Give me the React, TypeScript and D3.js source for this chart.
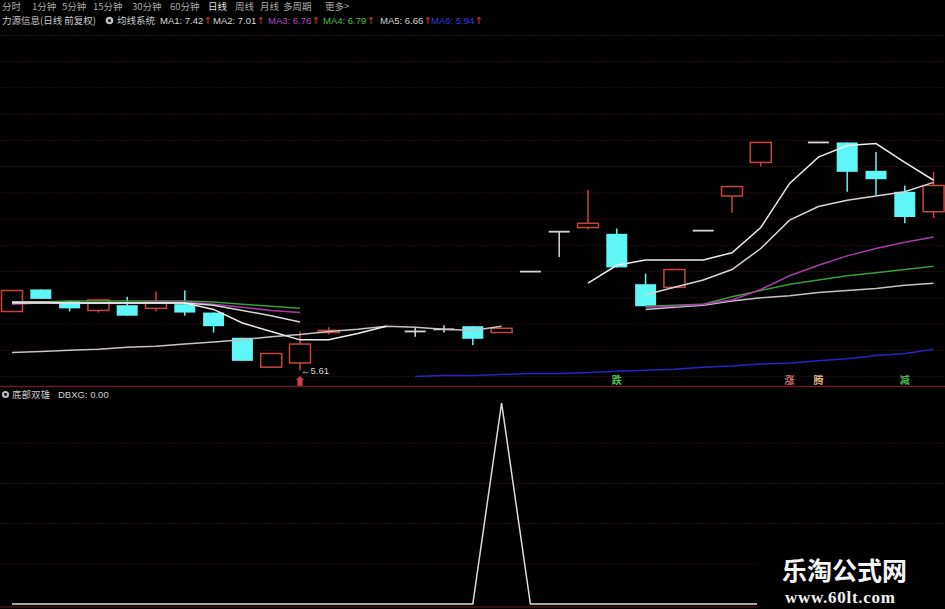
import React from 'react';
import * as d3 from 'd3';

const W = 945;
const H = 609;

// ---------- top menu / titles ----------
const menuLabels = ['分时', '1分钟', '5分钟', '15分钟', '30分钟', '60分钟', '日线', '周线', '月线', '多周期', '更多>'];
const stockTitle = '力源信息(日线 前复权)';
const systemTitle = '均线系统';
const maNames = ['MA1', 'MA2', 'MA3', 'MA4', 'MA5', 'MA6'];
const maLast = ['7.42', '7.01', '6.76', '6.79', '6.66', '5.94'];
const indicatorTitle = '底部双雄';
const indicatorName = 'DBXG';
const indicatorLast = '0.00';
const lowLabel = '5.61';

// ---------- daily bars (index 0..32) ----------
const opens = [6.17, 6.38, 6.27, 6.18, 6.23, 6.20, 6.24, 6.16, 5.92, 5.64, 5.68, 5.97, null, null, 5.98, 6.00, 6.03, 5.97, 6.55, 6.93, 6.97, 6.91, 6.43, 6.40, 6.94, 7.27, 7.59, null, 7.78, 7.78, 7.51, 7.31, 7.12];
const highs = [6.37, 6.38, 6.27, 6.28, 6.31, 6.36, 6.37, 6.16, 5.92, 5.77, 5.98, 6.02, null, null, 6.02, 6.04, 6.03, 6.01, 6.55, 6.93, 7.33, 6.96, 6.53, 6.57, 6.94, 7.36, 7.78, null, 7.78, 7.78, 7.69, 7.37, 7.50];
const lows = [6.17, 6.29, 6.17, 6.16, 6.13, 6.17, 6.13, 5.97, 5.70, 5.64, 5.61, 5.95, null, null, 5.93, 5.97, 5.85, 5.97, 6.55, 6.69, 6.95, 6.59, 6.22, 6.40, 6.94, 7.11, 7.55, null, 7.78, 7.31, 7.28, 7.01, 7.06];
const closes = [6.37, 6.29, 6.20, 6.28, 6.13, 6.26, 6.16, 6.03, 5.70, 5.77, 5.86, 5.99, null, null, 5.98, 6.00, 5.91, 6.01, 6.55, 6.93, 7.01, 6.59, 6.22, 6.57, 6.94, 7.36, 7.78, null, 7.78, 7.50, 7.43, 7.07, 7.37];

const N11 = [null, null, null, null, null, null, null, null, null, null, null];
const ma1 = [6.25, 6.25, 6.25, 6.25, 6.25, 6.25, 6.25, 6.19, 6.06, 5.98, 5.90, 5.90, 5.96, 6.03, null, null, null, null, null, null, 6.44, 6.61, 6.66, 6.66, 6.66, 6.73, 6.97, 7.39, 7.64, 7.75, 7.77, 7.59, 7.42];
const ma2 = [6.26, 6.26, 6.25, 6.25, 6.25, 6.25, 6.25, 6.23, 6.18, 6.13, 6.07, ...N11, 6.33, 6.40, 6.47, 6.57, 6.77, 7.04, 7.17, 7.23, 7.27, 7.31, 7.40];
const ma3 = [6.24, 6.25, 6.25, 6.25, 6.25, 6.26, 6.26, 6.24, 6.21, 6.18, 6.16, ...N11, 6.21, 6.22, 6.24, 6.28, 6.38, 6.51, 6.61, 6.70, 6.77, 6.83, 6.88];
const ma4 = [6.26, 6.26, 6.27, 6.27, 6.27, 6.27, 6.27, 6.26, 6.24, 6.22, 6.20, ...N11, 6.22, 6.23, 6.24, 6.31, 6.37, 6.43, 6.47, 6.51, 6.54, 6.57, 6.60];
const ma5 = [5.78, 5.79, 5.80, 5.81, 5.83, 5.84, 5.86, 5.88, 5.90, 5.93, 5.95, 5.98, 6.00, 6.03, 6.02, 6.00, 5.99, 6.03, null, null, null, null, 6.19, 6.21, 6.23, 6.27, 6.30, 6.32, 6.35, 6.37, 6.39, 6.42, 6.44];
const ma6 = [null, null, null, null, null, null, null, null, null, null, null, null, null, null, 5.55, 5.56, 5.56, 5.57, 5.58, 5.58, 5.59, 5.60, 5.61, 5.62, 5.64, 5.65, 5.67, 5.68, 5.70, 5.72, 5.75, 5.77, 5.81];

// signal labels under bars
const signalIndex = [21, 27, 28, 31];
const signalText = ['跌', '涨', '腾', '减'];
const lowMarkIndex = 10;

// bottom indicator DBXG
const dbxg = [0, 0, 0, 0, 0, 0, 0, 0, 0, 0, 0, 0, 0, 0, 0, 0, 0, 1, 0, 0, 0, 0, 0, 0, 0, 0, 0, 0, 0, 0, 0, 0, 0];

// grid levels
const priceGrid = d3.range(5.55, 8.81, 0.25);
const indGrid = [0.2, 0.4, 0.6, 0.8];

// ---------- styles (layout only) ----------
const menuX = [2, 32, 62, 93, 132, 170, 208, 235, 260, 283, 325];
const maLabelX = [160, 213, 268, 323, 380, 431];
const maColors = ['#ececec', '#d6d6d6', '#a83ca8', '#3c9c3c', '#c4c4c4', '#2626c4'];
const maLabelColors = ['#d8d8d8', '#d8d8d8', '#b848c8', '#48c048', '#d0d0d0', '#3838e0'];
const signalColors = ['#4cc44c', '#d07272', '#d8b488', '#48c048'];
const CJK = "'Noto Sans CJK SC', 'Noto Sans', sans-serif";
const LAT = "'Liberation Sans', Arial, sans-serif";

export default function App() {
  const x = d3.scaleLinear().domain([0, 32]).range([12, 933.6]);
  const y = d3.scaleLinear().domain([5.47, 8.87]).range([385, 28]);
  const yb = d3.scaleLinear().domain([0, 1]).range([604, 403]);
  const bw = 21;

  const maLine = d3
    .line<number | null>()
    .defined((d) => d != null)
    .x((_, i) => x(i))
    .y((d) => y(d as number));
  const indLine = d3
    .line<number>()
    .x((_, i) => x(i))
    .y((d) => yb(d));

  const mas = [ma6, ma5, ma4, ma3, ma2, ma1];
  const masColors = [maColors[5], maColors[4], maColors[3], maColors[2], maColors[1], maColors[0]];

  const candles = opens.map((o, i) => {
    if (o == null) return null;
    const c = closes[i] as number;
    const h = highs[i] as number;
    const l = lows[i] as number;
    const cx = x(i);
    const top = y(Math.max(o, c));
    const bot = y(Math.min(o, c));
    if (c > o) {
      const col = '#c8453e';
      return (
        <g key={i}>
          <line x1={cx} x2={cx} y1={y(h)} y2={top} stroke={col} strokeWidth={1.5} />
          <line x1={cx} x2={cx} y1={bot} y2={y(l)} stroke={col} strokeWidth={1.5} />
          <rect x={cx - bw / 2} y={top} width={bw} height={Math.max(bot - top, 1)} fill="none" stroke={col} strokeWidth={1.5} />
        </g>
      );
    }
    if (c < o) {
      const col = '#5ef6f6';
      return (
        <g key={i}>
          <line x1={cx} x2={cx} y1={y(h)} y2={y(l)} stroke={col} strokeWidth={1.5} />
          <rect x={cx - bw / 2} y={top} width={bw} height={Math.max(bot - top, 1)} fill={col} />
        </g>
      );
    }
    const col = '#d6d6d6';
    return (
      <g key={i}>
        <line x1={cx} x2={cx} y1={y(h)} y2={y(l)} stroke={col} strokeWidth={1.5} />
        <line x1={cx - bw / 2} x2={cx + bw / 2} y1={top} y2={top} stroke={col} strokeWidth={1.8} />
      </g>
    );
  });

  const lowX = x(lowMarkIndex);
  const lowY = y(lows[lowMarkIndex] as number);

  return (
    <div style={{ position: 'absolute', left: 0, top: 0, width: W, height: H, background: '#000' }}>
      <svg width={W} height={H} style={{ display: 'block' }}>
        <rect x={0} y={0} width={W} height={H} fill="#000" />

        {/* menu row */}
        {menuLabels.map((t, i) => (
          <text key={t} x={menuX[i]} y={10} fontSize={9.5} fontFamily={CJK} fill={t === '日线' ? '#e0e0e0' : '#a8a8a8'}>
            {t}
          </text>
        ))}

        {/* title row */}
        <text x={2} y={24} fontSize={9.5} fontFamily={CJK} fill="#c8c8c8">{stockTitle}</text>
        <circle cx={109.5} cy={20.5} r={3.8} fill="#bdbdbd" />
        <circle cx={109.5} cy={20.5} r={1.5} fill="#000" />
        <text x={117} y={24} fontSize={9.5} fontFamily={CJK} fill="#c8c8c8">{systemTitle}</text>
        {maNames.map((n, i) => (
          <g key={n}>
            <text x={maLabelX[i]} y={24} fontSize={9.5} fontFamily={LAT} fill={maLabelColors[i]}>
              {`${n}: ${maLast[i]}`}
            </text>
            <text x={maLabelX[i] + 44} y={24} fontSize={9.5} fontFamily="DejaVu Sans" fill="#e03a3a">↑</text>
          </g>
        ))}

        {/* grid */}
        {priceGrid.map((p) => (
          <line key={p} x1={0} x2={W} y1={y(p)} y2={y(p)} stroke="#2c0c0e" strokeWidth={1} strokeDasharray="2 1" />
        ))}
        {indGrid.map((v) => (
          <line key={v} x1={0} x2={W} y1={yb(v)} y2={yb(v)} stroke="#2c0c0e" strokeWidth={1} strokeDasharray="2 1" />
        ))}

        {/* candles */}
        {candles}

        {/* moving averages */}
        {mas.map((m, k) => (
          <path key={k} d={maLine(m) || ''} fill="none" stroke={masColors[k]} strokeWidth={1.5} />
        ))}

        {/* low marker */}
        <text x={lowX + 1} y={lowY + 3.5} fontSize={9.5} fontFamily={LAT} fill="#d0d0d0">{'←' + lowLabel}</text>
        <path d={`M${lowX - 2.5},386 L${lowX - 2.5},380 L${lowX - 4},380 L${lowX},376 L${lowX + 4},380 L${lowX + 2.5},380 L${lowX + 2.5},386 Z`} fill="#d23c50" />

        {/* signal labels */}
        {signalIndex.map((si, k) => (
          <text key={si} x={x(si)} y={384} fontSize={10} textAnchor="middle" fontFamily={CJK} fill={signalColors[k]} fontWeight="bold">
            {signalText[k]}
          </text>
        ))}

        {/* panel separator */}
        <line x1={0} x2={W} y1={386.5} y2={386.5} stroke="#6a1c24" strokeWidth={1.5} />

        {/* indicator panel title */}
        <circle cx={5.5} cy={394.5} r={3.6} fill="#bdbdbd" />
        <circle cx={5.5} cy={394.5} r={1.4} fill="#000" />
        <text x={12} y={398} fontSize={9.5} fontFamily={CJK} fill="#c8c8c8">{indicatorTitle}</text>
        <text x={58} y={398} fontSize={9.5} fontFamily={LAT} fill="#d0d0d0">{`${indicatorName}: ${indicatorLast}`}</text>

        {/* DBXG line */}
        <path d={indLine(dbxg) || ''} fill="none" stroke="#dcdcdc" strokeWidth={1.5} />

        {/* bottom border */}
        <line x1={0} x2={W} y1={607} y2={607} stroke="#4a1218" strokeWidth={1.5} />

        {/* watermark */}
        <rect x={757} y={548} width={188} height={61} fill="#000" />
        <text x={782} y={580} fontSize={25} fontWeight="bold" fontFamily={CJK} fill="#f4f4f4" textLength={125}>乐淘公式网</text>
        <text x={785} y={603} fontSize={17} fontWeight="bold" fontFamily="'Liberation Serif', serif" fill="#f0f0f0" textLength={110}>www.60lt.com</text>
      </svg>
    </div>
  );
}
